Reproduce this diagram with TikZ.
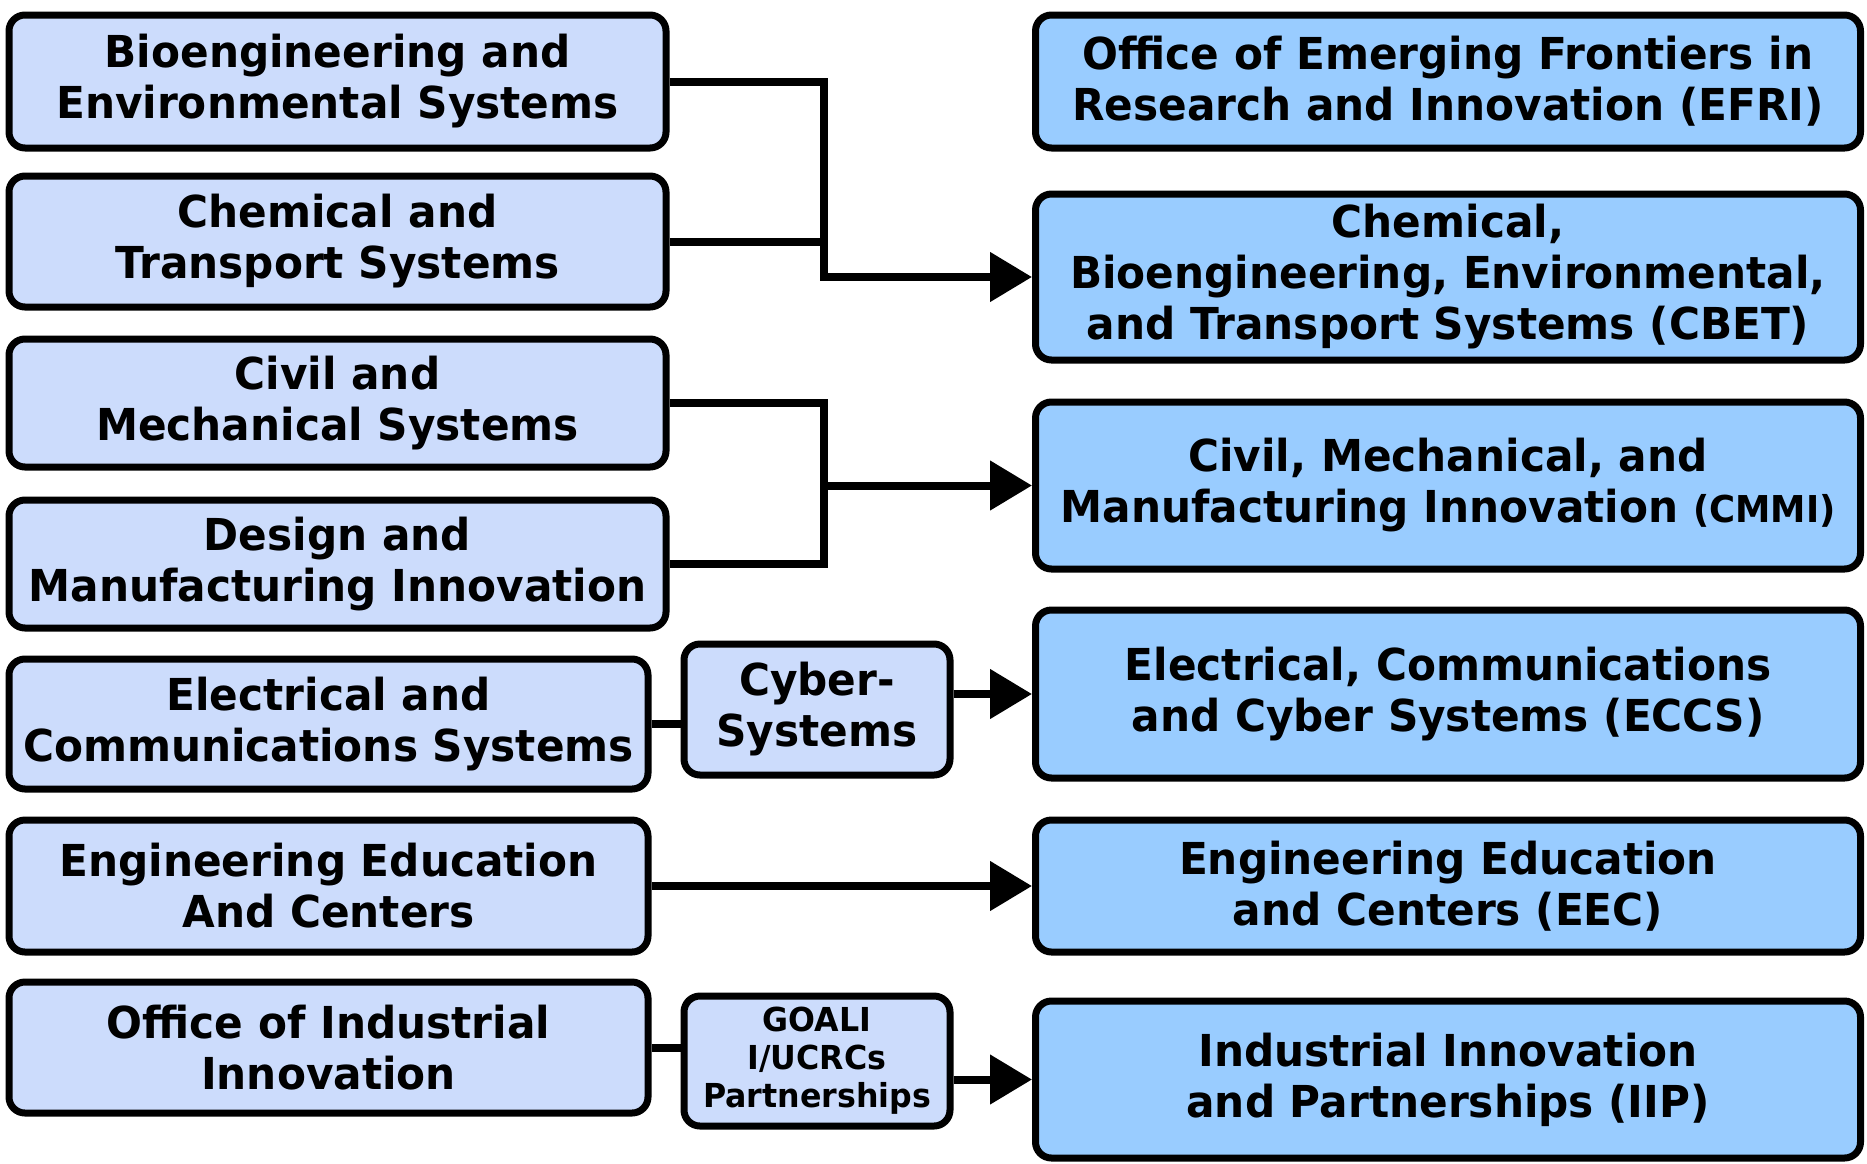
\documentclass[tikz,border=0pt]{standalone}
\usepackage{fontspec}
\setmainfont{DejaVu Sans}[BoldFont={DejaVu Sans Bold},FakeStretch=0.96]
\usetikzlibrary{arrows.meta}
\definecolor{leftfill}{HTML}{CCDCFC}
\definecolor{rightfill}{HTML}{99CCFF}
\tikzset{
  box/.style={draw=black, line width=7pt, rounded corners=16pt, inner sep=0pt, align=center,
    font=\fontsize{44}{51}\selectfont\bfseries},
  lbox/.style={box, fill=leftfill},
  rbox/.style={box, fill=rightfill, minimum width=825pt},
  mbox/.style={box, fill=leftfill, minimum width=266pt},
  conn/.style={line width=8pt},
  arr/.style={line width=8pt, -{Triangle[length=42pt,width=48pt]}},
}
\begin{document}
\begin{tikzpicture}[x=1pt,y=-1pt]
\useasboundingbox[fill=white] (0,0) rectangle (1867,1163);
% left column
\node[lbox, minimum width=657pt, minimum height=133pt] (bio) at (337.5,81.5) {Bioengineering and\\Environmental Systems};
\node[lbox, minimum width=657pt, minimum height=131pt] (chem) at (337.5,241.5) {Chemical and\\Transport Systems};
\node[lbox, minimum width=657pt, minimum height=128pt] (civil) at (337.5,403) {Civil and\\Mechanical Systems};
\node[lbox, minimum width=657pt, minimum height=128pt] (design) at (337.5,564) {Design and\\Manufacturing Innovation};
\node[lbox, minimum width=639pt, minimum height=130pt] (elec) at (328.5,724) {Electrical and\\Communications Systems};
\node[lbox, minimum width=639pt, minimum height=132pt] (enged) at (328.5,886) {Engineering Education\\And Centers};
\node[lbox, minimum width=639pt, minimum height=131pt] (oii) at (328.5,1047.5) {Office of Industrial\\Innovation};
% middle
\node[mbox, minimum height=131pt] (cyber) at (817,709.5) {Cyber-\\Systems};
\node[mbox, minimum height=130pt, font=\fontsize{33}{38}\selectfont\bfseries] (goali) at (817,1061) {GOALI\\I/UCRCs\\Partnerships};
% right column
\node[rbox, minimum height=133pt] (efri) at (1448,81.5) {Office of Emerging Frontiers in\\Research and Innovation (EFRI)};
\node[rbox, minimum height=166pt] (cbet) at (1448,277) {Chemical,\\Bioengineering, Environmental,\\and Transport Systems (CBET)};
\node[rbox, minimum height=167pt] (cmmi) at (1448,485.5) {Civil, Mechanical, and\\Manufacturing Innovation {\fontsize{37}{40}\selectfont(CMMI)}};
\node[rbox, minimum height=168pt] (eccs) at (1448,694) {Electrical, Communications\\and Cyber Systems (ECCS)};
\node[rbox, minimum height=132pt] (eec) at (1448,886) {Engineering Education\\and Centers (EEC)};
\node[rbox, minimum height=157pt] (iip) at (1448,1079.5) {Industrial Innovation\\and Partnerships (IIP)};
% connectors
\coordinate (j1) at (824,277);
\coordinate (j2) at (824,485.5);
\draw[arr] (bio.east) -| (j1) -- (cbet.west);
\draw[conn] (chem.east) -- (chem.east -| j1);
\draw[conn] (civil.east) -| (j2);
\draw[conn] (design.east) -| (j2);
\draw[arr] (j2) -- (cmmi.west);
\draw[conn] (elec.east) -- (elec.east -| cyber.west);
\draw[arr] (cyber.east |- eccs.west) -- (eccs.west);
\draw[arr] (enged.east) -- (enged.east -| eec.west);
\draw[conn] (oii.east) -- (oii.east -| goali.west);
\draw[arr] (goali.east |- iip.west) -- (iip.west);
\end{tikzpicture}
\end{document}
